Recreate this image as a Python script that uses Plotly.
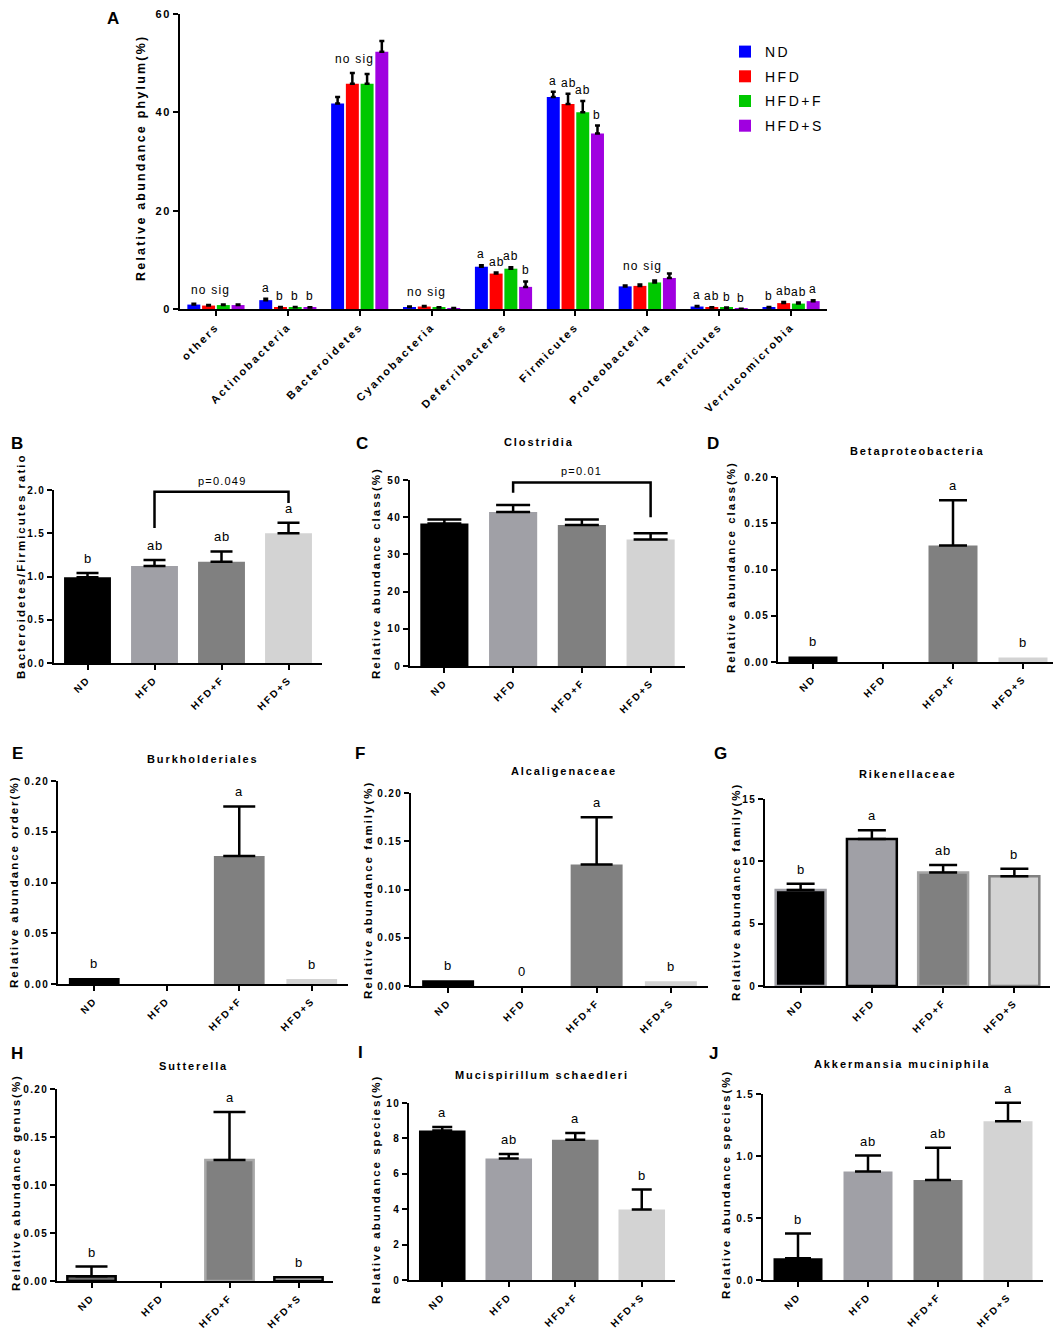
import plotly.graph_objects as go

FONT = "Arial, Liberation Sans, sans-serif"
W, H = 1061, 1339
PAD = 8  # page body margin of the html file

#region data

# panel A - phylum level, mean + SEM (%)
phyla = ["others", "Actinobacteria", "Bacteroidetes", "Cyanobacteria", "Deferribacteres",
         "Firmicutes", "Proteobacteria", "Tenericutes", "Verrucomicrobia"]
groups = ["ND", "HFD", "HFD+F", "HFD+S"]

nd_phylum = [0.9, 1.8, 41.8, 0.4, 8.6, 43.1, 4.6, 0.5, 0.3]
hfd_phylum = [0.7, 0.3, 45.8, 0.5, 7.2, 41.7, 4.7, 0.3, 1.2]
hfdf_phylum = [0.8, 0.35, 45.8, 0.3, 8.2, 40.0, 5.4, 0.25, 1.1]
hfds_phylum = [0.8, 0.3, 52.3, 0.15, 4.5, 35.7, 6.3, 0.05, 1.6]

nd_phylum_sem = [0.15, 0.3, 1.3, 0.1, 0.3, 1.1, 0.2, 0.1, 0.1]
hfd_phylum_sem = [0.1, 0.1, 2.2, 0.1, 0.2, 2.1, 0.3, 0.05, 0.2]
hfdf_phylum_sem = [0.1, 0.05, 2.0, 0.05, 0.3, 2.3, 0.4, 0.05, 0.2]
hfds_phylum_sem = [0.1, 0.05, 2.2, 0.05, 1.1, 1.6, 0.9, 0.02, 0.2]

# None = "no sig"
phylum_letters = [None, ["a", "b", "b", "b"], None, None, ["a", "ab", "ab", "b"],
                  ["a", "ab", "ab", "b"], None, ["a", "ab", "b", "b"], ["b", "ab", "ab", "a"]]

# panels B-J, one value per group (ND, HFD, HFD+F, HFD+S)
bf_ratio = [0.99, 1.12, 1.17, 1.50]
bf_ratio_sem = [0.05, 0.07, 0.12, 0.12]
bf_ratio_letters = ["b", "ab", "ab", "a"]

clostridia = [38.3, 41.4, 37.9, 34.0]
clostridia_sem = [1.1, 1.9, 1.5, 1.7]
clostridia_letters = ["", "", "", ""]

betaproteobacteria = [0.006, 0.0, 0.126, 0.005]
betaproteobacteria_sem = [None, None, 0.049, None]
betaproteobacteria_letters = ["b", "", "a", "b"]

burkholderiales = [0.006, 0.0, 0.126, 0.005]
burkholderiales_sem = [None, None, 0.049, None]
burkholderiales_letters = ["b", "", "a", "b"]

alcaligenaceae = [0.006, 0.0, 0.126, 0.005]
alcaligenaceae_sem = [None, None, 0.049, None]
alcaligenaceae_letters = ["b", "0", "a", "b"]

rikenellaceae = [7.7, 11.8, 9.1, 8.8]
rikenellaceae_sem = [0.5, 0.7, 0.6, 0.6]
rikenellaceae_letters = ["b", "a", "ab", "b"]

sutterella = [0.005, 0.0, 0.126, 0.004]
sutterella_sem = [0.01, None, 0.05, None]
sutterella_letters = ["b", "", "a", "b"]

mucispirillum = [8.44, 6.86, 7.93, 3.98]
mucispirillum_sem = [0.21, 0.26, 0.38, 1.13]
mucispirillum_letters = ["a", "ab", "a", "b"]

akkermansia = [0.175, 0.874, 0.806, 1.28]
akkermansia_sem = [0.2, 0.13, 0.26, 0.15]
akkermansia_letters = ["b", "ab", "ab", "a"]

#endregion

fig = go.Figure()
annotations = []
shapes = []


def px_x(p):
    return (p - PAD) / (W - PAD)


def px_y(p):
    return 1 - (p - PAD) / (H - PAD)


def sp(text, s):
    # Prism-style wide letter spacing
    return '<span style="letter-spacing:%spx">%s</span>' % (s, text)


def axis_style(size):
    return dict(showline=True, linecolor="black", linewidth=2, ticks="outside", ticklen=5,
                tickwidth=2, tickcolor="black", showgrid=False, zeroline=False,
                automargin=False, ticklabeloverflow="allow",
                tickfont=dict(family=FONT, size=size, color="black", weight="bold"))


def label(x, y, text, size=12, bold=False, angle=0, spacing=0, xref="paper", yref="paper",
          xanchor="center", yanchor="middle", **kw):
    annotations.append(dict(x=x, y=y, xref=xref, yref=yref,
                            text=sp(text, spacing) if spacing else text,
                            showarrow=False, textangle=angle,
                            xanchor=xanchor, yanchor=yanchor,
                            font=dict(family=FONT, size=size, color="black",
                                      weight="bold" if bold else "normal"), **kw))


#region Panel A

colors_a = ["#0000FF", "#FF0000", "#00C800", "#A000E0"]
means_a = [nd_phylum, hfd_phylum, hfdf_phylum, hfds_phylum]
sems_a = [nd_phylum_sem, hfd_phylum_sem, hfdf_phylum_sem, hfds_phylum_sem]

for name, mean, sem, col in zip(groups, means_a, sems_a, colors_a):
    fig.add_trace(go.Bar(
        x=phyla, y=mean, name=sp(name, 2.5), legendgroup=name,
        marker=dict(color=col, line=dict(width=0)),
        error_y=dict(type="data", array=sem, arrayminus=[0] * len(sem), symmetric=False,
                     color="black", thickness=2.5, width=2.5),
        xaxis="x", yaxis="y"))

fig.update_layout(
    xaxis=dict(domain=[px_x(180), px_x(827)], anchor="y", range=[-0.5, 8.5],
               tickangle=-45, tickvals=phyla, ticktext=[sp(p, 2.3) for p in phyla],
               **axis_style(11)),
    yaxis=dict(domain=[px_y(309), px_y(14)], anchor="x", range=[0, 60],
               tickvals=[0, 20, 40, 60], ticktext=[sp(str(v), 1.5) for v in [0, 20, 40, 60]],
               **axis_style(11)),
)

slot = 14.7  # px between bars within a phylum group
for i, letters in enumerate(phylum_letters):
    tops = [m[i] + s[i] for m, s in zip(means_a, sems_a)]
    if letters is None:
        label(i, max(tops[:3]), "no sig", size=12, spacing=1.2, xref="x", yref="y",
              yanchor="bottom", yshift=5, xshift=-5)
    else:
        for j, t in enumerate(letters):
            label(i, tops[j], t, size=12, spacing=1, xref="x", yref="y", yanchor="bottom",
                  yshift=2, xshift=(j - 1.5) * slot)

label(px_x(141), px_y(158), "Relative abundance phylum(%)", size=12.5, bold=True,
      angle=-90, spacing=2.2)
label(px_x(113), px_y(19), "A", size=17, bold=True)

#endregion

#region Panels B-J

gray_fill = ["#000000", "#A0A0A6", "#808080", "#D3D3D3"]


def add_panel(n, dom, values, sem, letters, title, ytitle, ytitle_pos, letter_pos, title_pos,
              yrange, tickvals, fmt, cap, fill=gray_fill, outline=None, outline_w=0):
    xa, ya = "x%d" % n, "y%d" % n
    fig.add_trace(go.Bar(
        x=groups, y=values, width=0.7, showlegend=False, hoverinfo="skip",
        marker=dict(color=fill,
                    line=dict(color=outline or fill,
                              width=[outline_w if v > 0 else 0 for v in values])),
        xaxis=xa, yaxis=ya))
    # SEM shown upwards only, only where there is one
    fig.add_trace(go.Scatter(
        x=groups, y=[v if s is not None else None for v, s in zip(values, sem)],
        mode="markers", marker=dict(size=1, color="rgba(0,0,0,0)"),
        error_y=dict(type="data", array=[s if s is not None else 0 for s in sem],
                     arrayminus=[0] * 4, symmetric=False, color="black",
                     thickness=2.5, width=cap),
        showlegend=False, hoverinfo="skip", xaxis=xa, yaxis=ya))
    fig.layout["xaxis%d" % n] = dict(domain=[px_x(dom[0]), px_x(dom[1])], anchor=ya,
                                     range=[-0.5, 3.5], tickangle=-45, tickvals=groups,
                                     ticktext=[sp(g, 2) for g in groups], **axis_style(10))
    fig.layout["yaxis%d" % n] = dict(domain=[px_y(dom[3]), px_y(dom[2])], anchor=xa,
                                     range=yrange, tickvals=tickvals,
                                     ticktext=[sp(fmt % v, 1.3) for v in tickvals],
                                     **axis_style(10))
    for i, t in enumerate(letters):
        if t:
            top = values[i] + (sem[i] or 0)
            label(i, top, t, size=13, spacing=0.8, xref=xa, yref=ya, yanchor="bottom", yshift=5)
    if title:
        label(px_x(title_pos[0]), px_y(title_pos[1]), title, size=11, bold=True, spacing=1.9)
    label(px_x(ytitle_pos[0]), px_y(ytitle_pos[1]), ytitle, size=11.5, bold=True, angle=-90,
          spacing=2)
    label(px_x(letter_pos[0]), px_y(letter_pos[1]), "BCDEFGHIJ"[n - 2], size=17, bold=True)
    return xa, ya


# B
xa, ya = add_panel(2, (54, 322, 490, 663), bf_ratio, bf_ratio_sem, bf_ratio_letters,
                   None, "Bacteroidetes/Firmicutes ratio", (21, 566), (17, 443), None,
                   [0, 2.0], [0, 0.5, 1.0, 1.5, 2.0], "%.1f", 11)
shapes.append(dict(type="path", xref=xa, yref=ya, path="M 1,1.56 L 1,1.98 L 3,1.98 L 3,1.85",
                   line=dict(color="black", width=2.5)))
label(2, 2.1 / 2.0, "p=0.049", size=11, spacing=1.2, xref=xa, yref=ya + " domain")

# C
xa, ya = add_panel(3, (410, 685, 480, 666), clostridia, clostridia_sem, clostridia_letters,
                   "Clostridia", "Relative abundance class(%)", (376, 573), (362, 443),
                   (539, 442), [0, 50], [0, 10, 20, 30, 40, 50], "%d", 17)
shapes.append(dict(type="path", xref=xa, yref=ya, path="M 1,46.6 L 1,49.3 L 3,49.3 L 3,40",
                   line=dict(color="black", width=2.5)))
label(2, 52.4 / 50, "p=0.01", size=11, spacing=1.2, xref=xa, yref=ya + " domain")

# D
add_panel(4, (778, 1058, 477, 662), betaproteobacteria, betaproteobacteria_sem,
          betaproteobacteria_letters, "Betaproteobacteria", "Relative abundance class(%)",
          (731, 567), (713, 443), (917, 451), [0, 0.2], [0, 0.05, 0.10, 0.15, 0.20], "%.2f", 14)

# E
add_panel(5, (58, 348, 781, 984), burkholderiales, burkholderiales_sem,
          burkholderiales_letters, "Burkholderiales", "Relative abundance order(%)",
          (14, 882), (17, 753), (203, 759), [0, 0.2], [0, 0.05, 0.10, 0.15, 0.20], "%.2f", 16)

# F
add_panel(6, (411, 708, 793, 986), alcaligenaceae, alcaligenaceae_sem,
          alcaligenaceae_letters, "Alcaligenaceae", "Relative abundance family(%)",
          (368, 890), (360, 753), (564, 771), [0, 0.2], [0, 0.05, 0.10, 0.15, 0.20], "%.2f", 16)

# G
add_panel(7, (765, 1050, 799, 986), rikenellaceae, rikenellaceae_sem,
          rikenellaceae_letters, "Rikenellaceae", "Relative abundance family(%)",
          (736, 892), (720, 753), (907, 774), [0, 15], [0, 5, 10, 15], "%d", 14,
          outline=["#A0A0A6", "#000000", "#A5A5A5", "#808080"], outline_w=2.5)

# H
add_panel(8, (57, 333, 1089, 1281), sutterella, sutterella_sem, sutterella_letters,
          "Sutterella", "Relative abundance genus(%)", (16, 1183), (17, 1053), (193, 1066),
          [0, 0.2], [0, 0.05, 0.10, 0.15, 0.20], "%.2f", 16,
          fill=["#6E6E6E", "#A0A0A6", "#808080", "#D3D3D3"],
          outline=["#000000", "#000000", "#A8A8A8", "#000000"], outline_w=2.5)

# I
add_panel(9, (409, 675, 1103, 1280), mucispirillum, mucispirillum_sem, mucispirillum_letters,
          "Mucispirillum schaedleri", "Relative abundance species(%)", (376, 1190),
          (360, 1052), (542, 1075), [0, 10], [0, 2, 4, 6, 8, 10], "%d", 10)

# J
add_panel(10, (763, 1043, 1094, 1280), akkermansia, akkermansia_sem, akkermansia_letters,
          "Akkermansia muciniphila", "Relative abundance species(%)", (726, 1185),
          (713, 1053), (902, 1064), [0, 1.5], [0, 0.5, 1.0, 1.5], "%.1f", 13)

#endregion

fig.update_layout(
    width=W - PAD, height=H - PAD, autosize=False,
    margin=dict(l=0, r=0, t=0, b=0, autoexpand=False),
    plot_bgcolor="white", paper_bgcolor="white",
    font=dict(family=FONT, size=12, color="black"),
    barmode="group", bargap=0.18, bargroupgap=0.12,
    showlegend=True,
    legend=dict(x=px_x(725), y=px_y(36), xanchor="left", yanchor="top",
                font=dict(family=FONT, size=14, color="black"),
                tracegroupgap=3.5, itemwidth=30, bgcolor="rgba(0,0,0,0)"),
    annotations=annotations,
    shapes=shapes,
)

fig.write_html("out.html")
